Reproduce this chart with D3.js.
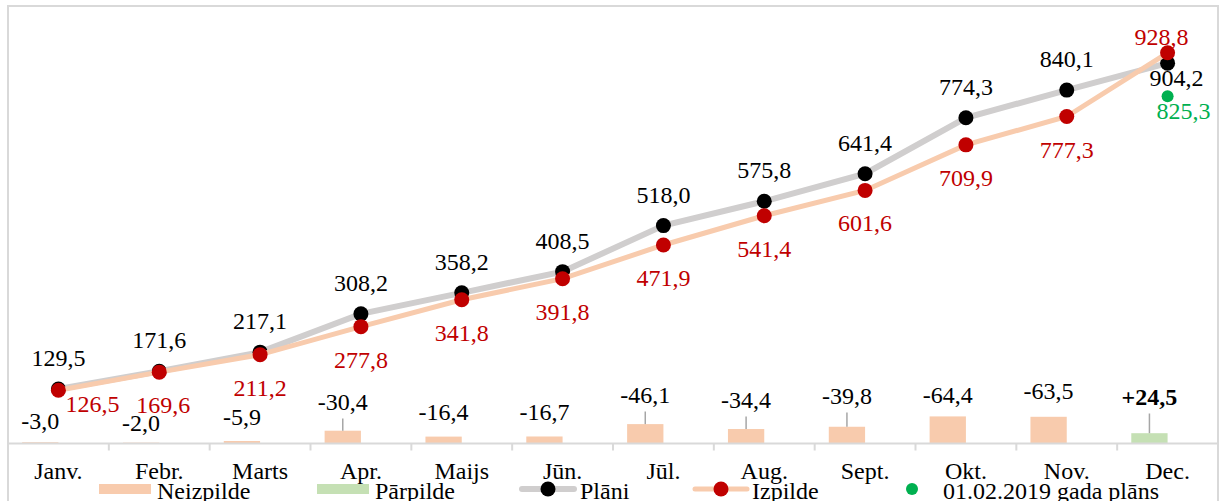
<!DOCTYPE html>
<html>
<head>
<meta charset="utf-8">
<script src="https://cdn.jsdelivr.net/npm/d3@7"></script>
<style>
body { margin: 0; background: #fff; }
text { font-family: "Liberation Serif", "Times New Roman", serif; font-size: 24px; }
</style>
</head>
<body>
<div id="chart"></div>
<script>
// data
var months = ["Janv.","Febr.","Marts","Apr.","Maijs","Jūn.","Jūl.","Aug.","Sept.","Okt.","Nov.","Dec."];
var plan   = [129.5,171.6,217.1,308.2,358.2,408.5,518.0,575.8,641.4,774.3,840.1,904.2];
var actual = [126.5,169.6,211.2,277.8,341.8,391.8,471.9,541.4,601.6,709.9,777.3,928.8];
var diff   = [-3.0,-2.0,-5.9,-30.4,-16.4,-16.7,-46.1,-34.4,-39.8,-64.4,-63.5,24.5];
var plan2019 = 825.3; // 01.02.2019 gada plāns, Dec.

// label layout (how high the difference labels sit above the axis, leader lines)
var diffLabelLift = [15,13,19,34,24,24,41,36,40,41,45,39];
var diffLeader    = [0,0,0,1,0,0,1,1,1,0,0,1];

var W = 1223, H = 501;
var mLeft = 8, mRight = 1218, mTop = 6, axisY = 443.5;

var svg = d3.select("#chart").append("svg").attr("width", W).attr("height", H);

var x = d3.scaleBand().domain(months).range([mLeft, mRight]);
var y = d3.scaleLinear().domain([0, 1040]).range([axisY, mTop]);
var xc = function(i){ return x(months[i]) + x.bandwidth()/2; };
var lv = d3.formatLocale({decimal: ",", thousands: " ", grouping: [3], currency: ["", ""], minus: "-"});
var fmt = lv.format(".1f");

var red = "#c00000", peach = "#f8cbad", grey = "#d0cece", green = "#c5e0b4", dot2019 = "#00b050";

// frame
svg.append("rect").attr("x", mLeft).attr("y", mTop).attr("width", mRight-mLeft).attr("height", 600)
	.attr("fill", "none").attr("stroke", "#d9d9d9").attr("stroke-width", 2);

// bars (absolute difference), sit left of category centre
var bw = x.bandwidth()*0.36;
svg.selectAll(".bar").data(diff).enter().append("rect")
	.attr("x", (d,i) => xc(i) - bw)
	.attr("y", d => y(Math.abs(d)))
	.attr("width", bw)
	.attr("height", d => axisY - y(Math.abs(d)))
	.attr("fill", d => d < 0 ? peach : green);

// axis line and ticks
svg.append("line").attr("x1", mLeft).attr("x2", mRight).attr("y1", axisY).attr("y2", axisY)
	.attr("stroke", "#d9d9d9").attr("stroke-width", 2);
svg.selectAll(".tick").data(months.slice(1)).enter().append("line")
	.attr("x1", d => x(d)).attr("x2", d => x(d)).attr("y1", axisY).attr("y2", axisY+7)
	.attr("stroke", "#d9d9d9").attr("stroke-width", 2);
svg.selectAll(".xl").data(months).enter().append("text")
	.attr("x", (d,i) => xc(i)).attr("y", 479).attr("text-anchor", "middle").text(d => d);

// difference labels
svg.selectAll(".dl").data(diff).enter().append("text")
	.attr("x", (d,i) => xc(i) - bw/2)
	.attr("y", (d,i) => axisY - diffLabelLift[i])
	.attr("text-anchor", "middle")
	.attr("font-weight", d => d > 0 ? "bold" : null)
	.text(d => d > 0 ? "+" + fmt(d) : fmt(d));
svg.selectAll(".ld").data(diff.map((d,i) => [d,i]).filter(p => diffLeader[p[1]])).enter().append("line")
	.attr("x1", p => xc(p[1]) - bw/2).attr("x2", p => xc(p[1]) - bw/2)
	.attr("y1", p => axisY - diffLabelLift[p[1]] + 9)
	.attr("y2", p => y(Math.abs(p[0])))
	.attr("stroke", "#a6a6a6").attr("stroke-width", 1.5);

// lines
var line = d3.line().x((d,i) => xc(i)).y(d => y(d));
svg.append("path").datum(plan).attr("d", line).attr("fill", "none").attr("stroke", grey).attr("stroke-width", 6);
svg.selectAll(".pd").data(plan).enter().append("circle")
	.attr("cx", (d,i) => xc(i)).attr("cy", d => y(d)).attr("r", 7.5).attr("fill", "#000");
svg.append("path").datum(actual).attr("d", line).attr("fill", "none").attr("stroke", peach).attr("stroke-width", 5);
svg.selectAll(".ad").data(actual).enter().append("circle")
	.attr("cx", (d,i) => xc(i)).attr("cy", d => y(d)).attr("r", 7.5).attr("fill", red);
svg.append("circle").attr("cx", xc(11)).attr("cy", y(plan2019)).attr("r", 6).attr("fill", dot2019);

// value labels
var last = months.length - 1;
svg.selectAll(".pl").data(plan).enter().append("text")
	.attr("x", (d,i) => xc(i) + (i == last ? 9 : 0))
	.attr("y", (d,i) => y(d) + (i == last ? 23 : -23))
	.attr("text-anchor", "middle").text(d => fmt(d));
svg.selectAll(".al").data(actual).enter().append("text")
	.attr("x", (d,i) => xc(i) + (i == 0 ? 34 : i == 1 ? 4 : i == last ? -6 : 0))
	.attr("y", (d,i) => y(d) + (i == 0 ? 22 : i == last ? -8 : 41))
	.attr("text-anchor", "middle").attr("fill", red).text(d => fmt(d));
svg.append("text").attr("x", xc(11) + 16).attr("y", y(plan2019) + 23)
	.attr("text-anchor", "middle").attr("fill", dot2019).text(fmt(plan2019));

// legend
var ly = 489, lb = 499;
svg.append("rect").attr("x", 99).attr("y", ly-5).attr("width", 52).attr("height", 10).attr("fill", peach);
svg.append("text").attr("x", 157).attr("y", lb).text("Neizpilde");
svg.append("rect").attr("x", 317).attr("y", ly-5).attr("width", 52).attr("height", 10).attr("fill", green);
svg.append("text").attr("x", 375).attr("y", lb).text("Pārpilde");
svg.append("line").attr("x1", 522).attr("x2", 574).attr("y1", ly).attr("y2", ly).attr("stroke", grey).attr("stroke-width", 6).attr("stroke-linecap", "round");
svg.append("circle").attr("cx", 548).attr("cy", ly).attr("r", 7.5).attr("fill", "#000");
svg.append("text").attr("x", 580).attr("y", lb).text("Plāni");
svg.append("line").attr("x1", 695).attr("x2", 747).attr("y1", ly).attr("y2", ly).attr("stroke", peach).attr("stroke-width", 5).attr("stroke-linecap", "round");
svg.append("circle").attr("cx", 721).attr("cy", ly).attr("r", 7.5).attr("fill", red);
svg.append("text").attr("x", 752).attr("y", lb).text("Izpilde");
svg.append("circle").attr("cx", 912).attr("cy", ly).attr("r", 6).attr("fill", dot2019);
svg.append("text").attr("x", 943).attr("y", lb).text("01.02.2019 gada plāns");
</script>
</body>
</html>
